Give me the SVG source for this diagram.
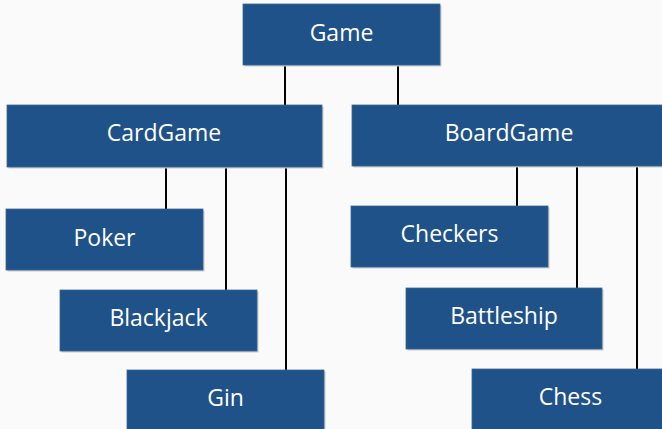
<svg xmlns="http://www.w3.org/2000/svg" width="662" height="429" viewBox="0 0 662 429">
<defs>
<style>
.bg{fill:#fafafa}
.box{fill:#1f5289;stroke:#3a6696;stroke-width:0.8}
.sh{fill:#c9c9c9}
.lbl{font-family:"Open Sans","Noto Sans",sans-serif;font-size:23px;fill:#ffffff;text-anchor:middle}
.ln{stroke:#000;stroke-width:2;fill:none}
</style>
</defs>
<rect class="bg" x="0" y="0" width="662" height="429"/>
<g id="connectors">
<line class="ln" x1="285" y1="64" x2="285" y2="106"/>
<line class="ln" x1="398" y1="64" x2="398" y2="106"/>
<line class="ln" x1="166" y1="166" x2="166" y2="210"/>
<line class="ln" x1="226" y1="166" x2="226" y2="291"/>
<line class="ln" x1="286" y1="166" x2="286" y2="371"/>
<line class="ln" x1="517" y1="165" x2="517" y2="207"/>
<line class="ln" x1="577" y1="165" x2="577" y2="289"/>
<line class="ln" x1="637" y1="165" x2="637" y2="370"/>
</g>
<g id="game">
<rect class="sh" x="244.5" y="5.5" width="197" height="61"/>
<rect class="box" x="243" y="4" width="197" height="61"/>
<text class="lbl" x="341.5" y="41">Game</text>
</g>
<g id="cardgame">
<rect class="sh" x="8.5" y="106.5" width="315" height="62"/>
<rect class="box" x="7" y="105" width="315" height="62"/>
<text class="lbl" x="164" y="141">CardGame</text>
</g>
<g id="boardgame">
<rect class="sh" x="353.5" y="106.5" width="315" height="61"/>
<rect class="box" x="352" y="105" width="315" height="61"/>
<text class="lbl" x="509" y="141">BoardGame</text>
</g>
<g id="poker">
<rect class="sh" x="7.5" y="210.5" width="197" height="61"/>
<rect class="box" x="6" y="209" width="197" height="61"/>
<text class="lbl" x="104.5" y="246">Poker</text>
</g>
<g id="blackjack">
<rect class="sh" x="61.5" y="291.5" width="197" height="61"/>
<rect class="box" x="60" y="290" width="197" height="61"/>
<text class="lbl" x="158.5" y="326">Blackjack</text>
</g>
<g id="gin">
<rect class="sh" x="128.5" y="371.5" width="197" height="62"/>
<rect class="box" x="127" y="370" width="197" height="62"/>
<text class="lbl" x="225.5" y="406">Gin</text>
</g>
<g id="checkers">
<rect class="sh" x="352.5" y="207.5" width="197" height="61"/>
<rect class="box" x="351" y="206" width="197" height="61"/>
<text class="lbl" x="449.5" y="242">Checkers</text>
</g>
<g id="battleship">
<rect class="sh" x="407.5" y="289.5" width="196" height="61"/>
<rect class="box" x="406" y="288" width="196" height="61"/>
<text class="lbl" x="504" y="324">Battleship</text>
</g>
<g id="chess">
<rect class="sh" x="473.5" y="370.5" width="197" height="62"/>
<rect class="box" x="472" y="369" width="197" height="62"/>
<text class="lbl" x="570.5" y="405">Chess</text>
</g>
</svg>
